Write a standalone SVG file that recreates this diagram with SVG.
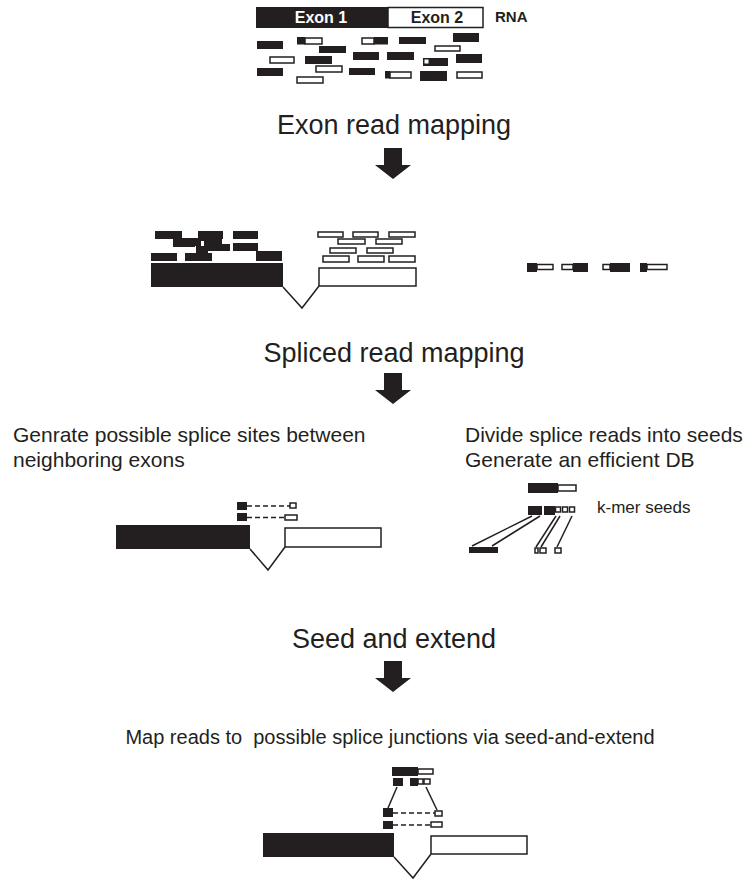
<svg xmlns="http://www.w3.org/2000/svg" width="746" height="882" viewBox="0 0 746 882">
<style>
.t{font-family:"Liberation Sans",Arial,sans-serif;fill:#231f20}
.h{font-size:27px;text-anchor:middle}
.s{font-size:21px}
.b{fill:#231f20;stroke:none}
.w{fill:#fff;stroke:#231f20;stroke-width:1.5}
.ln{fill:none;stroke:#231f20;stroke-width:1.5}
.d{fill:none;stroke:#231f20;stroke-width:1.5;stroke-dasharray:5,3}
</style>
<defs>
<polygon id="arr" points="384,148 402,148 402,165 411,165 393,179 375,165 384,165"/>
</defs>
<rect width="746" height="882" fill="#fff"/>

<g id="rna">
<rect class="b" x="256" y="7" width="132" height="21"/>
<rect class="w" x="388" y="7.5" width="95" height="20"/>
<text class="t" x="321" y="23" font-size="16" font-weight="bold" text-anchor="middle" style="fill:#fff">Exon 1</text>
<text class="t" x="437" y="23" font-size="16" font-weight="bold" text-anchor="middle">Exon 2</text>
<text class="t" x="495" y="22" font-size="15" font-weight="bold">RNA</text>
</g>

<g id="reads">
<rect class="b" x="257" y="41" width="26" height="8"/>
<rect class="w" x="305" y="38" width="17" height="6"/><rect class="b" x="297" y="37" width="8" height="7.5"/>
<rect class="b" x="319" y="46" width="27" height="7"/>
<rect class="w" x="362" y="38" width="12" height="6"/><rect class="b" x="374" y="37" width="14" height="7.5"/>
<rect class="b" x="399" y="37" width="27" height="7"/>
<rect class="b" x="453" y="33" width="26" height="9"/>
<rect class="w" x="435" y="46" width="25" height="5"/>
<rect class="w" x="270" y="57" width="24" height="6"/>
<rect class="b" x="305" y="56" width="27" height="8"/>
<rect class="b" x="353" y="52" width="26" height="8"/>
<rect class="b" x="387" y="52" width="27" height="8"/>
<rect class="b" x="423" y="58" width="25" height="8"/><rect x="424.5" y="59.5" width="4" height="4" fill="#fff"/>
<rect class="b" x="456" y="54" width="26" height="9"/>
<rect class="b" x="257" y="68" width="26" height="8"/>
<rect class="w" x="316" y="66" width="26" height="6"/>
<rect class="w" x="297" y="77" width="26" height="6"/>
<rect class="b" x="349" y="68" width="26" height="7"/>
<rect class="w" x="390" y="72" width="21" height="6"/><rect class="b" x="385" y="71" width="5" height="7.5"/>
<rect class="b" x="420" y="71" width="27" height="10"/>
<rect class="w" x="457" y="72" width="25" height="6"/>
</g>

<text class="t h" x="394" y="134">Exon read mapping</text>
<g id="arrow1"><use href="#arr" class="b"/></g>

<g id="mapped-exon1">
<rect class="b" x="155" y="231" width="27" height="8"/>
<rect class="b" x="173" y="238" width="22" height="9"/>
<rect class="b" x="198" y="231" width="25" height="8"/>
<rect class="b" x="190" y="238" width="32" height="8"/>
<rect x="201" y="241" width="3" height="6" fill="#fff"/>
<rect class="b" x="196" y="246" width="12" height="7"/>
<rect class="b" x="208" y="244" width="22" height="7"/>
<rect class="b" x="233" y="231" width="25" height="8"/>
<rect class="b" x="233" y="243" width="25" height="8"/>
<rect class="b" x="151" y="253" width="26" height="8"/>
<rect class="b" x="185" y="253" width="27" height="8"/>
<rect class="b" x="256" y="251" width="26" height="10"/>
<rect class="b" x="151" y="263" width="132" height="24"/>
</g>
<g id="mapped-exon2">
<rect class="w" x="318" y="232" width="25" height="5"/>
<rect class="w" x="353" y="232" width="25" height="5"/>
<rect class="w" x="389" y="232" width="26" height="5"/>
<rect class="w" x="338" y="239" width="27" height="5"/>
<rect class="w" x="376" y="239" width="26" height="5"/>
<rect class="w" x="330" y="248" width="26" height="5"/>
<rect class="w" x="367" y="248" width="26" height="5"/>
<rect class="w" x="323" y="256" width="26" height="6"/>
<rect class="w" x="358" y="256" width="26" height="6"/>
<rect class="w" x="389" y="256" width="26" height="6"/>
<rect class="w" x="319" y="268" width="97" height="18"/>
<polyline class="ln" points="283,287 302,308 319,286"/>
</g>

<g id="unmapped">
<rect class="w" x="537" y="264.5" width="16" height="5"/><rect class="b" x="527" y="263" width="10" height="9"/>
<rect class="w" x="562" y="264.5" width="11" height="5"/><rect class="b" x="573" y="263" width="15" height="9"/>
<rect class="w" x="603" y="264.5" width="7" height="5"/><rect class="b" x="610" y="263" width="20" height="9"/>
<rect class="w" x="647" y="264.5" width="20" height="5"/><rect class="b" x="640" y="263" width="7" height="9"/>
</g>

<text class="t h" x="394" y="362">Spliced read mapping</text>
<g id="arrow2"><use href="#arr" class="b" y="225"/></g>

<text class="t s" x="13" y="442">Genrate possible splice sites between</text>
<text class="t s" x="13" y="467">neighboring exons</text>
<text class="t s" x="465" y="442">Divide splice reads into seeds</text>
<text class="t s" x="465" y="467">Generate an efficient DB</text>

<g id="splice-sites">
<rect class="b" x="116" y="525" width="134" height="24"/>
<rect class="w" x="285" y="528" width="96" height="19"/>
<polyline class="ln" points="250,549 268,570 285,547"/>
<rect class="b" x="237" y="502" width="10" height="8"/>
<line class="d" x1="247" y1="506" x2="290" y2="506"/>
<rect class="w" x="290" y="503" width="6" height="5"/>
<rect class="b" x="237" y="513" width="10" height="8"/>
<line class="d" x1="247" y1="517.5" x2="285" y2="517.5"/>
<rect class="w" x="285" y="515" width="12" height="5"/>
</g>

<g id="seeds">
<rect class="b" x="528" y="483" width="30" height="10"/>
<rect class="w" x="558" y="485" width="18" height="6"/>
<rect class="b" x="528" y="506" width="14" height="9"/>
<rect class="b" x="544" y="506" width="11" height="9"/>
<rect class="w" x="555.5" y="507" width="5" height="5"/>
<rect class="w" x="562.5" y="507" width="5" height="5"/>
<rect class="w" x="569.5" y="507" width="5" height="5"/>
<text class="t" x="597" y="513" font-size="17">k-mer seeds</text>
<rect class="b" x="469" y="547" width="29" height="6"/>
<rect class="w" x="535" y="548" width="3" height="5"/>
<rect class="w" x="540" y="548" width="6" height="5"/>
<rect class="w" x="555" y="548" width="6" height="5"/>
<line class="ln" x1="532" y1="516" x2="472" y2="546"/>
<line class="ln" x1="540" y1="516" x2="492" y2="546"/>
<line class="ln" x1="556" y1="516" x2="536" y2="547"/>
<line class="ln" x1="560" y1="516" x2="541" y2="547"/>
<line class="ln" x1="572" y1="516" x2="557" y2="547"/>
</g>

<text class="t h" x="394" y="648">Seed and extend</text>
<g id="arrow3"><use href="#arr" class="b" y="513"/></g>

<text class="t" x="390" y="744" font-size="20" text-anchor="middle" xml:space="preserve" style="white-space:pre">Map reads to  possible splice junctions via seed-and-extend</text>

<g id="junctions">
<rect class="b" x="392" y="767" width="26" height="9"/>
<rect class="w" x="418" y="769" width="15" height="5"/>
<rect class="b" x="393" y="778" width="10" height="8"/>
<rect class="b" x="410" y="778" width="8" height="8"/>
<rect class="w" x="418" y="779" width="5" height="5"/>
<rect class="w" x="424" y="779" width="6" height="5"/>
<line class="ln" x1="397" y1="787" x2="388" y2="808"/>
<line class="ln" x1="426" y1="787" x2="437" y2="810"/>
<rect class="b" x="383" y="808" width="10" height="9"/>
<line class="d" x1="393" y1="813" x2="435" y2="813"/>
<rect class="w" x="435" y="811" width="7" height="5"/>
<rect class="b" x="383" y="821" width="10" height="8"/>
<line class="d" x1="393" y1="825" x2="431" y2="825"/>
<rect class="w" x="431" y="822" width="11" height="5"/>
<rect class="b" x="263" y="833" width="131" height="24"/>
<rect class="w" x="431" y="836" width="96" height="18"/>
<polyline class="ln" points="394,857 413,878 431,854"/>
</g>
</svg>
